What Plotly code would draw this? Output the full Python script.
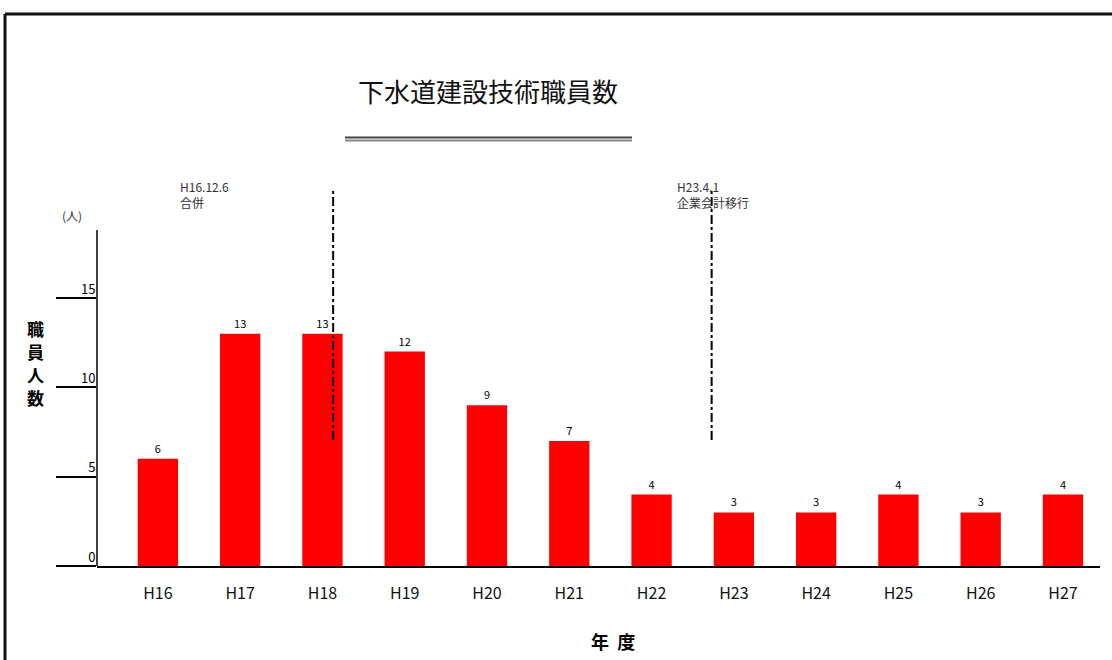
import plotly.graph_objects as go

years = ["H16", "H17", "H18", "H19", "H20", "H21", "H22", "H23", "H24", "H25", "H26", "H27"]
staff = [6, 13, 13, 12, 9, 7, 4, 3, 3, 4, 3, 4]
y_ticks = [0, 5, 10, 15]
events = [
    {"x": 2.13, "label": "H16.12.6<br>合併", "lx": 0.24},
    {"x": 6.73, "label": "H23.4.1<br>企業会計移行", "lx": 6.29},
]
y_title_chars = ["職", "員", "人", "数"]

FONT = "Noto Sans CJK JP"
W, H = 1112, 660
L, R, T, B = 97, 12, 164, 94
pw, ph = W - L - R, H - T - B

def px_x(p):
    return (p - L) / pw

def px_y(p):
    return (H - B - p) / ph

fig = go.Figure()
fig.add_trace(go.Bar(
    x=list(range(len(years))), y=staff,
    marker=dict(color="#ff0000", line=dict(width=0)),
    text=[str(v) for v in staff], textposition="outside",
    textfont=dict(size=11, color="#000", family=FONT),
    cliponaxis=False, width=0.49,
))

shapes = []
# y axis line
shapes.append(dict(type="line", xref="paper", yref="y", x0=0, x1=0, y0=0, y1=18.8,
                   line=dict(color="#000", width=1.5)))
# event lines
for e in events:
    shapes.append(dict(type="line", xref="x", yref="y", x0=e["x"], x1=e["x"], y0=7.05, y1=21.1,
                       line=dict(color="#000", width=2, dash="dashdot")))
# title double underline
shapes.append(dict(type="line", xref="paper", yref="paper", x0=px_x(345), x1=px_x(632),
                   y0=px_y(137.5), y1=px_y(137.5), line=dict(color="#444", width=2)))
shapes.append(dict(type="line", xref="paper", yref="paper", x0=px_x(345), x1=px_x(632),
                   y0=px_y(140.5), y1=px_y(140.5), line=dict(color="#888", width=2)))
# page frame
shapes.append(dict(type="line", xref="paper", yref="paper", x0=px_x(5), x1=px_x(1115),
                   y0=px_y(14), y1=px_y(14), line=dict(color="#111", width=3)))
shapes.append(dict(type="line", xref="paper", yref="paper", x0=px_x(5), x1=px_x(5),
                   y0=px_y(14), y1=px_y(665), line=dict(color="#111", width=3)))

annotations = []
for e in events:
    annotations.append(dict(x=e["lx"], y=px_y(176), xref="x", yref="paper", text=e["label"],
                            showarrow=False, xanchor="left", yanchor="top", align="left",
                            font=dict(size=12, color="#333", family=FONT)))
for i, ch in enumerate(y_title_chars):
    annotations.append(dict(x=px_x(35), y=px_y(328 + 23 * i), xref="paper", yref="paper",
                            text="<b>" + ch + "</b>",
                            showarrow=False, xanchor="center", yanchor="middle",
                            font=dict(size=17, color="#000", family=FONT)))
annotations.append(dict(x=px_x(72), y=px_y(215), xref="paper", yref="paper", text="(人)",
                        showarrow=False, xanchor="center", yanchor="middle",
                        font=dict(size=12, color="#333", family=FONT)))
annotations.append(dict(x=px_x(613), y=px_y(641), xref="paper", yref="paper", text="<b>年  度</b>",
                        showarrow=False, xanchor="center", yanchor="middle",
                        font=dict(size=18, color="#000", family=FONT)))

fig.update_layout(
    width=W, height=H,
    margin=dict(l=L, r=R, t=T, b=B),
    paper_bgcolor="#fff", plot_bgcolor="#fff",
    showlegend=False,
    title=dict(text="下水道建設技術職員数", x=488 / W, xanchor="center", xref="container",
               y=1 - 93 / H, yanchor="middle", yref="container",
               font=dict(size=26, color="#111", family=FONT)),
    xaxis=dict(range=[-0.74, 11.45], tickvals=list(range(len(years))), ticktext=years,
               showgrid=False, zeroline=False, showline=True, linecolor="#000", linewidth=2,
               ticks="", tickfont=dict(size=16, color="#111", family=FONT),
               ticklabelstandoff=12),
    yaxis=dict(range=[0, 22.5], tickvals=y_ticks, showgrid=False, zeroline=False,
               showline=False, ticks="outside", ticklen=40, tickwidth=1.5, tickcolor="#000",
               tickfont=dict(size=13, color="#000", family=FONT),
               ticklabelstandoff=-42, ticklabelshift=-9),
    shapes=shapes,
    annotations=annotations,
    bargap=0.5,
)

fig.write_html("out.html")
